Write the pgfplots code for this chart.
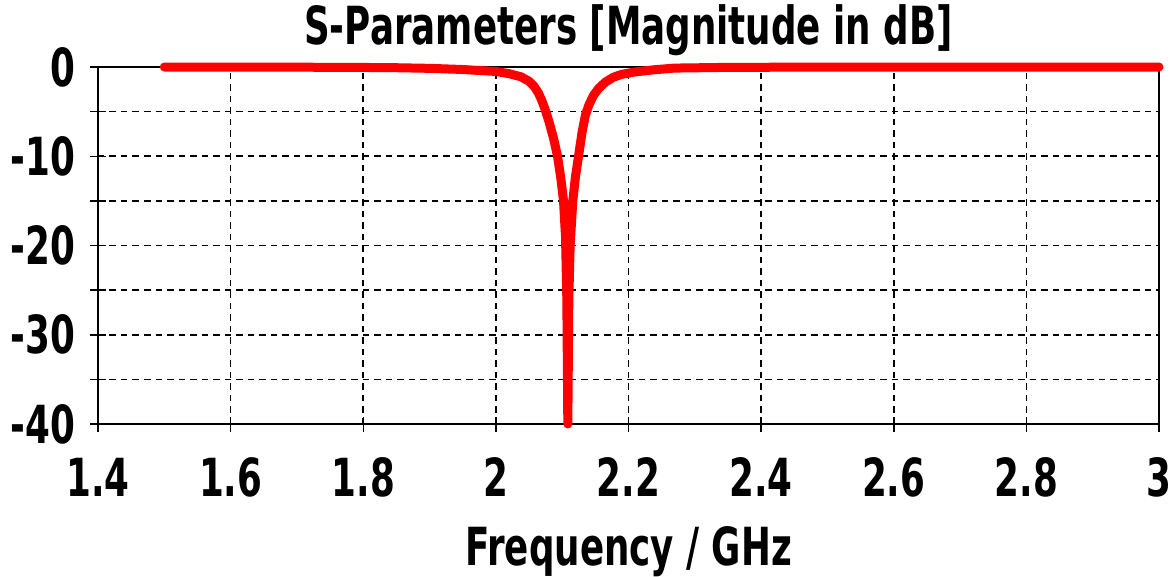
\documentclass[border=0pt]{standalone}
\usepackage{fontspec}
\setmainfont{DejaVu Sans}[FakeStretch=0.68]
\usepackage{pgfplots}
\pgfplotsset{compat=1.18}
\begin{document}
\begin{tikzpicture}[x=1pt,y=1pt]
% 1 px of the reference = 0.4pt
\path[use as bounding box] (-39.2pt,-60.8pt) rectangle (431.2pt,169.6pt);
\begin{axis}[
    at={(0pt,0pt)}, anchor=south west,
    scale only axis,
    width=424.4pt, height=142.8pt,
    xmin=1.4, xmax=3, ymin=-40, ymax=0,
    xtick={1.4,1.6,...,3.01},
    xticklabels={1.4,1.6,1.8,2,2.2,2.4,2.6,2.8,3},
    ytick={-40,-30,-20,-10,0},
    yticklabels={-40,-30,-20,-10,0},
    minor ytick={-35,-25,-15,-5},
    xtick pos=bottom, ytick pos=left,
    tick align=center,
    major tick length=6pt, minor tick length=6pt,
    tick style={black, line width=0.6pt},
    axis line style={black, line width=0.8pt},
    xmajorgrids, ymajorgrids, yminorgrids,
    major grid style={black, line width=0.65pt, dash pattern=on 2.6pt off 2pt},
    minor grid style={black, line width=0.65pt, dash pattern=on 2.6pt off 2pt},
    ticklabel style={font=\bfseries\fontsize{21}{24}\selectfont, inner sep=0pt},
    yticklabel style={anchor=east, xshift=-6pt},
    xticklabel style={anchor=base, yshift=-26pt},
    title={S-Parameters [Magnitude in dB]},
    title style={font=\bfseries\fontsize{21}{24}\selectfont, at={(axis description cs:0.5,1)}, anchor=base, yshift=3pt, inner sep=0pt},
    xlabel={Frequency / GHz},
    xlabel style={font=\bfseries\fontsize{21}{24}\selectfont, at={(axis description cs:0.5,0)}, anchor=base, yshift=-56.4pt, inner sep=0pt},
    clip=false,
]
\addplot[red, line width=3.6pt, line join=round, line cap=round] table {
1.500 0
1.600 0
1.700 -0.02
1.800 -0.05
1.850 -0.08
1.900 -0.15
1.950 -0.28
2.000 -0.50
2.020 -0.75
2.038 -1.10
2.050 -1.60
2.058 -2.20
2.064 -2.90
2.069 -3.70
2.074 -4.70
2.080 -6.10
2.087 -8.00
2.093 -10.0
2.098 -12.5
2.102 -15.0
2.105 -19.0
2.107 -26.0
2.1085 -40.0
2.110 -26.0
2.112 -20.0
2.116 -15.0
2.120 -12.3
2.125 -9.8
2.130 -7.3
2.135 -5.4
2.140 -4.3
2.147 -3.2
2.155 -2.4
2.165 -1.7
2.177 -1.15
2.190 -0.82
2.210 -0.55
2.240 -0.30
2.270 -0.12
2.350 -0.04
2.500 -0.01
3.000 0
};
\end{axis}
\end{tikzpicture}
\end{document}
